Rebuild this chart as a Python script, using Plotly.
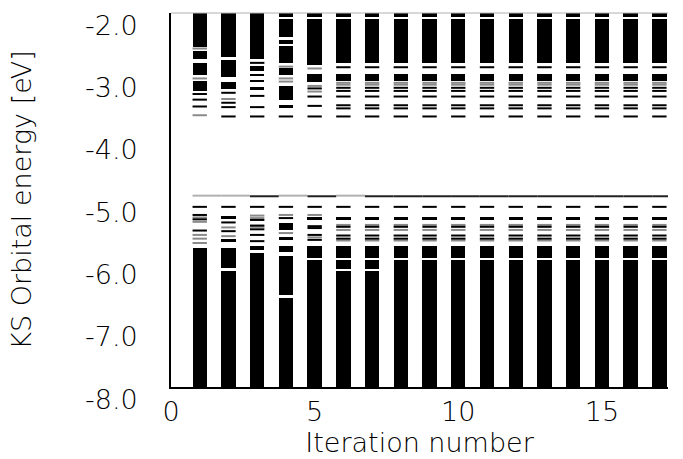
import plotly.graph_objects as go

# ---------------- data ----------------
iterations = list(range(1, 18))

# dense (black) energy bands: iteration, lower edge, upper edge  [eV]
band_it = [1, 1, 1, 1, 1,
           2, 2, 2, 2, 2, 2, 2,
           3, 3, 3, 3, 3, 3, 3,
           4, 4, 4, 4, 4, 4, 4, 4, 4, 4, 4, 4,
           5, 5, 5, 5, 5, 5,
           6, 6, 6, 6, 6, 6, 6,
           7, 7, 7, 7, 7, 7, 7,
           8, 8, 8, 8, 8, 8,
           9, 9, 9, 9, 9, 9,
           10, 10, 10, 10, 10, 10,
           11, 11, 11, 11, 11, 11,
           12, 12, 12, 12, 12, 12,
           13, 13, 13, 13, 13, 13,
           14, 14, 14, 14, 14, 14,
           15, 15, 15, 15, 15, 15,
           16, 16, 16, 16, 16, 16,
           17, 17, 17, 17, 17, 17]
band_lo = [-2.54, -2.73, -3.00, -3.25, -8.0,
           -2.71, -3.02, -3.22, -5.31, -5.67, -6.09, -8.0,
           -2.74, -2.93, -3.01, -3.10, -3.23, -5.81, -8.0,
           -2.07, -2.38, -2.49, -2.81, -3.00, -3.40, -3.53, -5.48, -5.64, -5.84, -6.52, -8.0,
           -2.07, -2.83, -3.11, -5.32, -5.93, -8.0,
           -2.07, -2.81, -3.09, -5.32, -5.93, -6.10, -8.0,
           -2.07, -2.81, -3.09, -5.32, -5.93, -6.10, -8.0,
           -2.07, -2.81, -3.09, -5.32, -5.93, -8.0,
           -2.07, -2.81, -3.09, -5.32, -5.93, -8.0,
           -2.07, -2.81, -3.09, -5.32, -5.93, -8.0,
           -2.07, -2.81, -3.09, -5.32, -5.93, -8.0,
           -2.07, -2.81, -3.09, -5.32, -5.93, -8.0,
           -2.07, -2.81, -3.09, -5.32, -5.93, -8.0,
           -2.07, -2.81, -3.09, -5.32, -5.93, -8.0,
           -2.07, -2.81, -3.09, -5.32, -5.93, -8.0,
           -2.07, -2.81, -3.09, -5.32, -5.93, -8.0,
           -2.07, -2.81, -3.09, -5.32, -5.93, -8.0]
band_hi = [-2.00, -2.61, -2.80, -3.09, -5.77,
           -2.00, -2.76, -3.10, -5.25, -5.62, -5.77, -6.14,
           -2.00, -2.85, -2.98, -3.07, -3.19, -5.73, -5.85,
           -2.00, -2.10, -2.43, -2.53, -2.89, -3.17, -3.48, -5.37, -5.60, -5.74, -5.90, -6.57,
           -2.00, -2.09, -2.98, -5.27, -5.74, -5.97,
           -2.00, -2.10, -2.98, -5.27, -5.74, -5.97, -6.14,
           -2.00, -2.10, -2.98, -5.27, -5.74, -5.97, -6.14,
           -2.00, -2.10, -2.98, -5.27, -5.74, -5.97,
           -2.00, -2.10, -2.98, -5.27, -5.74, -5.97,
           -2.00, -2.10, -2.98, -5.27, -5.74, -5.97,
           -2.00, -2.10, -2.98, -5.27, -5.74, -5.97,
           -2.00, -2.10, -2.98, -5.27, -5.74, -5.97,
           -2.00, -2.10, -2.98, -5.27, -5.74, -5.97,
           -2.00, -2.10, -2.98, -5.27, -5.74, -5.97,
           -2.00, -2.10, -2.98, -5.27, -5.74, -5.97,
           -2.00, -2.10, -2.98, -5.27, -5.74, -5.97,
           -2.00, -2.10, -2.98, -5.27, -5.74, -5.97]

# isolated orbital levels drawn in black: iteration, energy [eV]
level_it = [1, 1, 1, 1, 1, 1, 1,
            2, 2, 2, 2, 2, 2, 2,
            3, 3, 3, 3, 3, 3, 3, 3, 3, 3,
            4, 4, 4,
            5, 5, 5, 5, 5, 5, 5, 5, 5, 5,
            6, 6, 6, 6, 6, 6, 6, 6, 6, 6, 6,
            7, 7, 7, 7, 7, 7, 7, 7, 7, 7, 7,
            8, 8, 8, 8, 8, 8, 8, 8, 8, 8, 8,
            9, 9, 9, 9, 9, 9, 9, 9, 9, 9, 9,
            10, 10, 10, 10, 10, 10, 10, 10, 10, 10, 10,
            11, 11, 11, 11, 11, 11, 11, 11, 11, 11, 11,
            12, 12, 12, 12, 12, 12, 12, 12, 12, 12, 12,
            13, 13, 13, 13, 13, 13, 13, 13, 13, 13, 13,
            14, 14, 14, 14, 14, 14, 14, 14, 14, 14, 14,
            15, 15, 15, 15, 15, 15, 15, 15, 15, 15, 15,
            16, 16, 16, 16, 16, 16, 16, 16, 16, 16, 16,
            17, 17, 17, 17, 17, 17, 17, 17, 17, 17, 17]
level_e = [-3.30, -3.39, -3.50, -5.11, -5.24, -5.31, -5.49,
           -3.28, -3.44, -3.51, -3.66, -5.11, -5.36, -5.50,
           -2.80, -3.33, -3.51, -3.66, -5.11, -5.32, -5.41, -5.47, -5.56, -5.66,
           -3.66, -5.11, -5.29,
           -3.21, -3.34, -3.49, -3.66, -5.11, -5.29, -5.42, -5.45, -5.56, -5.64,
           -2.87, -3.20, -3.25, -3.34, -3.48, -3.53, -3.66, -5.11, -5.43, -5.57, -5.62,
           -2.87, -3.20, -3.25, -3.34, -3.48, -3.53, -3.66, -5.11, -5.43, -5.57, -5.62,
           -2.87, -3.20, -3.25, -3.34, -3.48, -3.53, -3.66, -5.11, -5.43, -5.57, -5.62,
           -2.87, -3.20, -3.25, -3.34, -3.48, -3.53, -3.66, -5.11, -5.43, -5.57, -5.62,
           -2.87, -3.20, -3.25, -3.34, -3.48, -3.53, -3.66, -5.11, -5.43, -5.57, -5.62,
           -2.87, -3.20, -3.25, -3.34, -3.48, -3.53, -3.66, -5.11, -5.43, -5.57, -5.62,
           -2.87, -3.20, -3.25, -3.34, -3.48, -3.53, -3.66, -5.11, -5.43, -5.57, -5.62,
           -2.87, -3.20, -3.25, -3.34, -3.48, -3.53, -3.66, -5.11, -5.43, -5.57, -5.62,
           -2.87, -3.20, -3.25, -3.34, -3.48, -3.53, -3.66, -5.11, -5.43, -5.57, -5.62,
           -2.87, -3.20, -3.25, -3.34, -3.48, -3.53, -3.66, -5.11, -5.43, -5.57, -5.62,
           -2.87, -3.20, -3.25, -3.34, -3.48, -3.53, -3.66, -5.11, -5.43, -5.57, -5.62,
           -2.87, -3.20, -3.25, -3.34, -3.48, -3.53, -3.66, -5.11, -5.43, -5.57, -5.62]

# faint (partially resolved) levels drawn in grey: iteration, energy [eV]
faint_it = [1, 1, 1, 1, 1, 1, 1, 1,
            2, 2, 2,
            3, 3, 3,
            4, 4, 4, 4, 4,
            5, 5, 5, 5, 5,
            6, 6, 6, 6, 6,
            7, 7, 7, 7, 7,
            8, 8, 8, 8, 8,
            9, 9, 9, 9, 9,
            10, 10, 10, 10, 10,
            11, 11, 11, 11, 11,
            12, 12, 12, 12, 12,
            13, 13, 13, 13, 13,
            14, 14, 14, 14, 14,
            15, 15, 15, 15, 15,
            16, 16, 16, 16, 16,
            17, 17, 17, 17, 17]
faint_e = [-2.57, -3.05, -3.64, -5.28, -5.35, -5.56, -5.62, -5.69,
           -3.38, -5.44, -5.58,
           -5.25, -5.29, -5.43,
           -2.86, -3.05, -3.10, -5.24, -5.53,
           -2.89, -3.17, -3.26, -5.24, -5.60,
           -3.12, -3.15, -5.40, -5.48, -5.65,
           -3.12, -3.15, -5.40, -5.48, -5.65,
           -3.12, -3.15, -5.40, -5.48, -5.65,
           -3.12, -3.15, -5.40, -5.48, -5.65,
           -3.12, -3.15, -5.40, -5.48, -5.65,
           -3.12, -3.15, -5.40, -5.48, -5.65,
           -3.12, -3.15, -5.40, -5.48, -5.65,
           -3.12, -3.15, -5.40, -5.48, -5.65,
           -3.12, -3.15, -5.40, -5.48, -5.65,
           -3.12, -3.15, -5.40, -5.48, -5.65,
           -3.12, -3.15, -5.40, -5.48, -5.65,
           -3.12, -3.15, -5.40, -5.48, -5.65]

# Fermi level per iteration [eV]
fermi_e = [-4.93, -4.93, -4.94, -4.93, -4.94, -4.93, -4.94, -4.94, -4.94,
           -4.94, -4.94, -4.94, -4.94, -4.94, -4.94, -4.94, -4.94]

x_ticks = [0, 5, 10, 15]
y_ticks = [-2.0, -3.0, -4.0, -5.0, -6.0, -7.0, -8.0]
y_tick_text = ["-2.0", "-3.0", "-4.0", "-5.0", "-6.0", "-7.0", "-8.0"]

# ---------------- figure ----------------
HALF = 0.25
FONT = dict(family="DejaVu Sans", size=27, color="black", weight=200)

fig = go.Figure()

fig.add_trace(go.Bar(
    x=band_it, y=[h - l for l, h in zip(band_lo, band_hi)], base=band_lo,
    width=2 * HALF, marker=dict(color="black", line=dict(width=0)),
    showlegend=False, hoverinfo="skip"))


def segs(its, es, left, right):
    xs, ys = [], []
    for k, e in zip(its, es):
        xs += [k - left, k + right, None]
        ys += [e, e, None]
    return xs, ys


xs, ys = segs(faint_it, faint_e, HALF, HALF)
fig.add_trace(go.Scatter(x=xs, y=ys, mode="lines",
                         line=dict(color="#8a8a8a", width=2),
                         showlegend=False, hoverinfo="skip"))
xs, ys = segs(level_it, level_e, HALF, HALF)
fig.add_trace(go.Scatter(x=xs, y=ys, mode="lines",
                         line=dict(color="black", width=2),
                         showlegend=False, hoverinfo="skip"))

# Fermi level: step segments, grey where the level sits between pixel rows
ref = min(fermi_e)
gi = [k for k, e in zip(iterations, fermi_e) if e != ref]
ge = [e for e in fermi_e if e != ref]
bi = [k for k, e in zip(iterations, fermi_e) if e == ref]
be = [e for e in fermi_e if e == ref]
xs, ys = segs(gi, ge, HALF, 1 - HALF)
fig.add_trace(go.Scatter(x=xs, y=ys, mode="lines",
                         line=dict(color="#b0b0b0", width=2),
                         showlegend=False, hoverinfo="skip"))
xs, ys = segs(bi, be, HALF, 1 - HALF)
fig.add_trace(go.Scatter(x=xs, y=ys, mode="lines",
                         line=dict(color="#222222", width=2),
                         showlegend=False, hoverinfo="skip"))

fig.add_shape(type="line", xref="paper", yref="paper", x0=0, x1=1, y0=1, y1=1,
              line=dict(color="#b0b0b0", width=1))

# y tick labels (drawn slightly below their tick, as in the original)
for v, t in zip(y_ticks, y_tick_text):
    fig.add_annotation(x=0, xref="paper", y=v, yref="y", text=t,
                       showarrow=False, xanchor="right", yanchor="middle",
                       xshift=-31, yshift=-12, font=FONT)

fig.update_layout(
    width=683, height=459,
    margin=dict(l=171, r=15, t=13, b=72),
    paper_bgcolor="white", plot_bgcolor="white",
    font=FONT, bargap=0,
    xaxis=dict(range=[0, 17.3], showgrid=False, zeroline=False,
               showline=True, linecolor="black", linewidth=2,
               ticks="", tickvals=x_ticks, tickfont=FONT,
               ticklabelstandoff=0, automargin=False,
               title=dict(text="Iteration number", font=FONT, standoff=0)),
    yaxis=dict(range=[-8, -2], showgrid=False, zeroline=False,
               showline=True, linecolor="black", linewidth=2,
               ticks="", showticklabels=False, automargin=False,
               title=dict(text="KS Orbital energy [eV]", font=FONT, standoff=130)),
)

fig.write_html("out.html",
               config={"displayModeBar": False, "staticPlot": True},
               post_script="document.body.style.margin='0';"
                           "document.body.style.padding='0';")
